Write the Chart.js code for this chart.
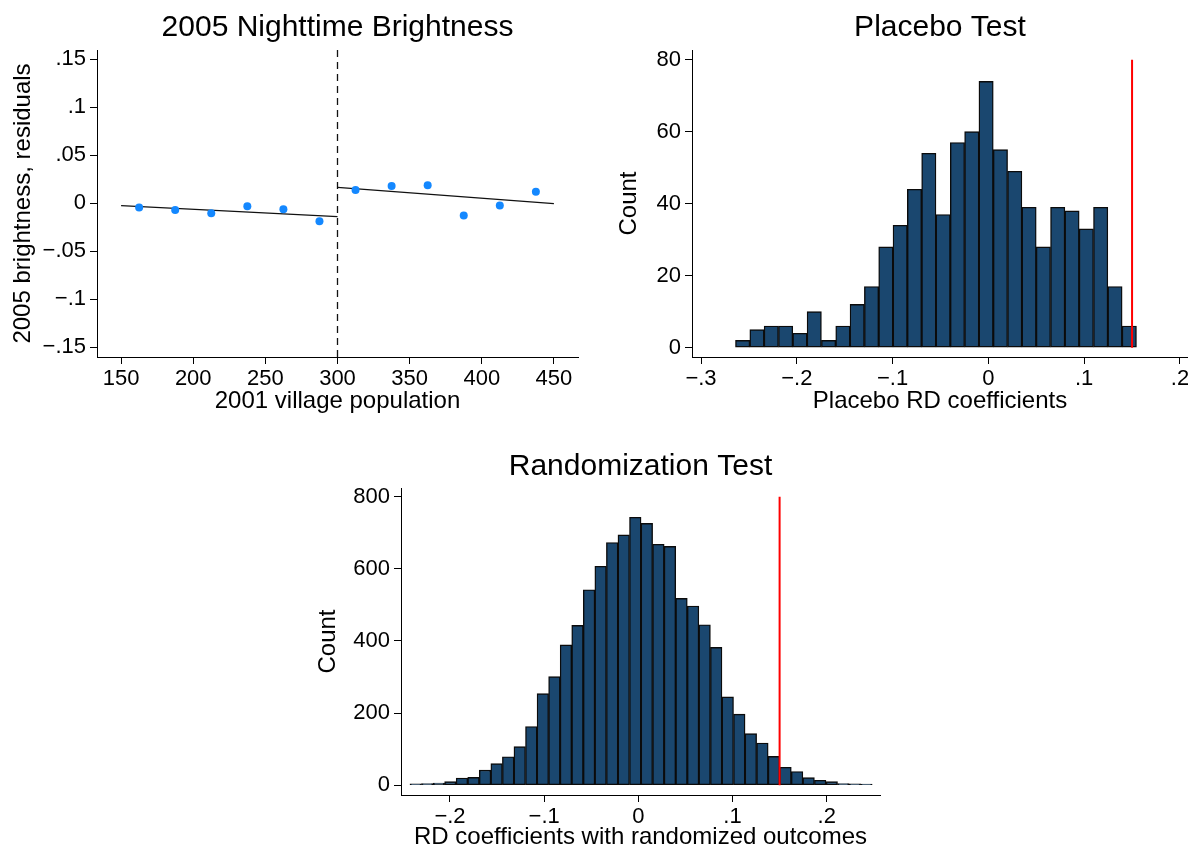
<!DOCTYPE html>
<html>
<head>
<meta charset="utf-8">
<script src="https://cdn.jsdelivr.net/npm/chart.js@4.4.1/dist/chart.umd.min.js"></script>
<style>
  body { margin: 0; background: #fff; }
  #wrap { position: relative; width: 1188px; height: 850px; overflow: hidden; }
  canvas { position: absolute; }
</style>
</head>
<body>
<div id="wrap">
  <canvas id="graficoRD" width="594" height="420" style="left:0;top:0"></canvas>
  <canvas id="graficoPlacebo" width="594" height="420" style="left:594px;top:0"></canvas>
  <canvas id="graficoRandom" width="590" height="425" style="left:300px;top:430px"></canvas>
</div>
<script>
// Painel 1: binscatter
const popBins = [162.5, 187.5, 212.5, 237.5, 262.5, 287.5, 312.5, 337.5, 362.5, 387.5, 412.5, 437.5];
const brightResid = [-0.0045, -0.0069, -0.0104, -0.0031, -0.0062, -0.0187, 0.0139, 0.0180, 0.0187, -0.0128, -0.0024, 0.0121];
const fitLeftX = [150, 300];
const fitLeftY = [-0.0024, -0.0139];
const fitRightX = [300, 450];
const fitRightY = [0.0166, -0.0003];
const cutoff = 300;
const residTicks = [-0.15, -0.1, -0.05, 0, 0.05, 0.1, 0.15];
const popTicks = [150, 200, 250, 300, 350, 400, 450];

// Painel 2: placebo
const placeboStart = -0.264;
const placeboWidth = 0.01495;
const placeboCounts = [2, 5, 6, 6, 4, 10, 2, 6, 12, 17, 28, 34, 44, 54, 37, 57, 60, 74, 55, 49, 39, 28, 39, 38, 33, 39, 17, 6];
const placeboXTicks = [-0.3, -0.2, -0.1, 0, 0.1, 0.2];
const placeboYTicks = [0, 20, 40, 60, 80];

// Painel 3: randomizacao
const randStart = -0.2425;
const randWidth = 0.01227;
const randCounts = [4, 5, 6, 10, 20, 22, 42, 60, 79, 107, 163, 254, 301, 389, 443, 542, 607, 673, 694, 743,
                    726, 668, 662, 518, 497, 445, 382, 245, 197, 143, 117, 80, 50, 38, 21, 14, 10, 5, 4, 3];
const randXTicks = [-0.2, -0.1, 0, 0.1, 0.2];
const randYTicks = [0, 200, 400, 600, 800];

const estimativaRD = 0.15;

const FONTE = '"Liberation Sans", Arial, Helvetica, sans-serif';
const AZUL = '#1a476f';

// formato estilo Stata: .15, −.05, 0
function fmt(v) {
    if (Math.abs(v) < 1e-9) return '0';
    if (Number.isInteger(v)) return String(v);
    let s = String(+Math.abs(v).toFixed(3)).replace(/^0\./, '.');
    return (v < 0 ? '\u2212' : '') + s;
}

function eixo(horiz, min, max, ticks, titulo, tamanho, padTitulo) {
    return {
        type: 'linear',
        min: min,
        max: max,
        offset: false,
        afterBuildTicks: s => { s.ticks = ticks.map(v => ({ value: v })); },
        afterFit: s => {
            if (horiz) s.height = tamanho; else s.width = tamanho;
            s.paddingLeft = 0; s.paddingRight = 0; s.paddingTop = 0; s.paddingBottom = 0;
        },
        grid: { display: true, drawOnChartArea: false, drawTicks: true, tickLength: 7, color: '#000', lineWidth: 1, offset: false },
        border: { display: true, color: '#000', width: 1 },
        ticks: { color: '#000', font: { family: FONTE, size: 22 }, padding: horiz ? 2 : 4, maxRotation: 0, autoSkip: false,
                 callback: v => fmt(v) },
        title: { display: true, text: titulo, color: '#000', font: { family: FONTE, size: 24 },
                 padding: horiz ? { top: 0, bottom: padTitulo } : { top: padTitulo, bottom: 0 } }
    };
}

function plugins(titulo, padTop, padBottom) {
    return {
        legend: { display: false },
        tooltip: { enabled: false },
        title: { display: true, text: titulo, fullSize: false, color: '#000',
                 font: { family: FONTE, size: 30, weight: 'normal' },
                 padding: { top: padTop, bottom: padBottom } }
    };
}

function histograma(id, start, width, counts, xMin, xMax, xTicks, yMin, yMax, yTicks, cfg) {
    const centros = counts.map((c, i) => ({ x: start + (i + 0.5) * width, y: c }));
    return new Chart(document.getElementById(id), {
        type: 'bar',
        data: {
            datasets: [{
                type: 'line',
                data: [{ x: estimativaRD, y: 0 }, { x: estimativaRD, y: yTicks[yTicks.length - 1] }],
                borderColor: '#ff0000', borderWidth: 2, pointRadius: 0, order: 1
            }, {
                data: centros,
                backgroundColor: AZUL, borderColor: '#0b0b0b', borderWidth: 1.4, borderSkipped: false,
                barPercentage: 1, categoryPercentage: 1, order: 2
            }]
        },
        options: {
            responsive: false, animation: false,
            layout: { padding: { left: 0, right: cfg.padRight, top: 0, bottom: 0 } },
            scales: {
                x: eixo(true, xMin, xMax, xTicks, cfg.xTitle, cfg.xH, cfg.xPad),
                y: eixo(false, yMin, yMax, yTicks, 'Count', cfg.yW, cfg.yPad)
            },
            plugins: plugins(cfg.title, cfg.tTop, cfg.tBottom)
        }
    });
}

new Chart(document.getElementById('graficoRD'), {
    type: 'scatter',
    data: {
        datasets: [{
            data: popBins.map((x, i) => ({ x: x, y: brightResid[i] })),
            backgroundColor: '#1488ff', borderWidth: 0, pointRadius: 4
        }, {
            data: fitLeftX.map((x, i) => ({ x: x, y: fitLeftY[i] })),
            showLine: true, borderColor: '#111', borderWidth: 1.3, pointRadius: 0
        }, {
            data: fitRightX.map((x, i) => ({ x: x, y: fitRightY[i] })),
            showLine: true, borderColor: '#111', borderWidth: 1.3, pointRadius: 0
        }, {
            data: [{ x: cutoff, y: -0.16 }, { x: cutoff, y: 0.1595 }],
            showLine: true, borderColor: '#111', borderWidth: 1.3, borderDash: [7, 5], pointRadius: 0
        }]
    },
    options: {
        responsive: false, animation: false,
        layout: { padding: { left: 0, right: 16, top: 0, bottom: 0 } },
        scales: {
            x: eixo(true, 133.3, 466.7, popTicks, '2001 village population', 63, 4.6),
            y: eixo(false, -0.16, 0.1595, residTicks, '2005 brightness, residuals', 97, 9)
        },
        plugins: plugins('2005 Nighttime Brightness', 9.5, 4.5)
    }
});

histograma('graficoPlacebo', placeboStart, placeboWidth, placeboCounts,
    -0.3094, 0.2084, placeboXTicks, -2.6, 82.7, placeboYTicks,
    { xTitle: 'Placebo RD coefficients', xH: 63, xPad: 4.6, yW: 98, yPad: 20.6, padRight: 0,
      title: 'Placebo Test', tTop: 9.5, tBottom: 4.5 });

histograma('graficoRandom', randStart, randWidth, randCounts,
    -0.252, 0.2566, randXTicks, -27, 824, randYTicks,
    { xTitle: 'RD coefficients with randomized outcomes', xH: 60, xPad: 3.6, yW: 101, yPad: 13.6, padRight: 10,
      title: 'Randomization Test', tTop: 18.7, tBottom: 3.3 });
</script>
</body>
</html>
